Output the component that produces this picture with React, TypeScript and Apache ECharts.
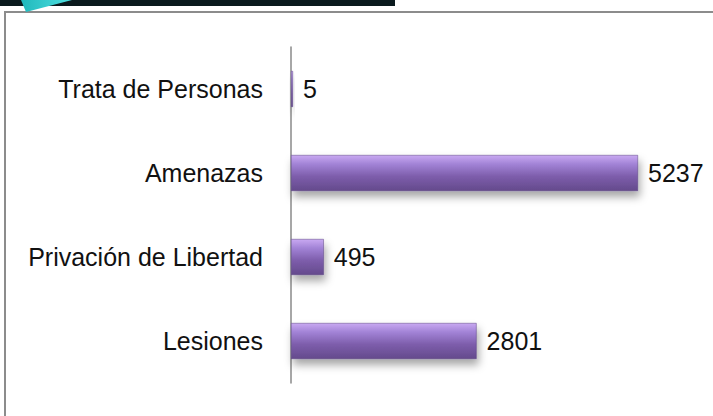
import React, { useEffect, useRef } from "react";
import * as echarts from "echarts";

const categories = ["Lesiones", "Privación de Libertad", "Amenazas", "Trata de Personas"];
const values = [2801, 495, 5237, 5];

export default function App() {
  const ref = useRef<HTMLDivElement>(null);
  useEffect(() => {
    const chart = echarts.init(ref.current!, null, { renderer: "svg" });
    const font = "'Liberation Sans', sans-serif";
    chart.setOption({
      animation: false,
      backgroundColor: "#ffffff",
      grid: { left: 291, top: 47, width: 347, height: 336, containLabel: false },
      xAxis: { type: "value", min: 0, max: 5237, show: false },
      yAxis: {
        type: "category",
        data: categories,
        axisLine: { lineStyle: { color: "#8a8a8a", width: 1.5 } },
        axisTick: { show: false },
        axisLabel: { fontFamily: font, fontSize: 25, color: "#111", margin: 28 },
      },
      series: [
        {
          type: "bar",
          data: values,
          barWidth: 36,
          barMinHeight: 2,
          itemStyle: {
            color: new echarts.graphic.LinearGradient(0, 0, 0, 1, [
              { offset: 0, color: "#c9a9f2" },
              { offset: 0.25, color: "#a283d6" },
              { offset: 0.6, color: "#7d5dab" },
              { offset: 1, color: "#644a8c" },
            ]),
            borderColor: "#5b4380",
            borderWidth: 0.5,
            shadowColor: "rgba(0,0,0,0.35)",
            shadowBlur: 8,
            shadowOffsetY: 6,
            shadowOffsetX: 2,
          },
          label: {
            show: true,
            position: "right",
            distance: 10,
            fontFamily: font,
            fontSize: 25,
            color: "#111",
          },
        },
      ],
      graphic: [
        { type: "rect", shape: { x: 0, y: 0, width: 395, height: 6 }, style: { fill: "#0b1a1e" } },
        {
          type: "rect",
          shape: { x: 5, y: 12, width: 800, height: 500 },
          style: { fill: "none", stroke: "#8c8c8c", lineWidth: 2 },
        },
        {
          type: "polygon",
          shape: { points: [[21, 0], [72, 0], [26, 12]] },
          style: {
            fill: new echarts.graphic.LinearGradient(0, 0, 1, 0, [
              { offset: 0, color: "#20b8bc" },
              { offset: 1, color: "#4fe0e0" },
            ]),
          },
        },
      ],
    });
    return () => chart.dispose();
  }, []);
  return <div ref={ref} style={{ width: 713, height: 416, position: "absolute", left: 0, top: 0 }} />;
}
